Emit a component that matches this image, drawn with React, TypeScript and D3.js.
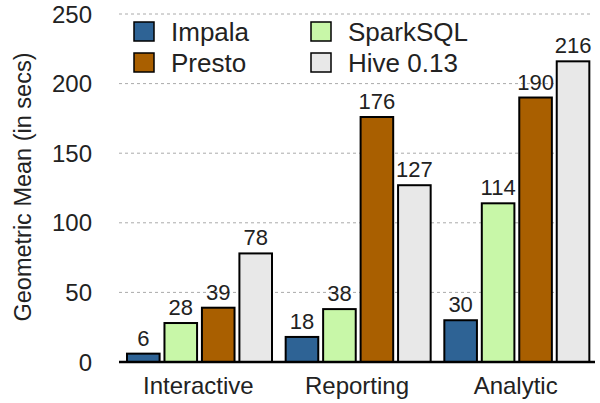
import React from "react";
import * as d3 from "d3";

const categories = ["Interactive", "Reporting", "Analytic"];
const seriesNames = ["Impala", "SparkSQL", "Presto", "Hive 0.13"];
const impala = [6, 18, 30];
const sparksql = [28, 38, 114];
const presto = [39, 176, 190];
const hive = [78, 127, 216];
const yTicks = [0, 50, 100, 150, 200, 250];
const colors = ["#2e6395", "#c8f7a8", "#a95f00", "#e8e8e8"];

const seriesValues = [impala, sparksql, presto, hive];

export default function App() {
  const W = 600, H = 403;
  const left = 119, right = 595, top = 14, bottom = 362;
  const font = "'Liberation Sans', Arial, Helvetica, sans-serif";

  const y = d3.scaleLinear().domain([0, 250]).range([bottom, top]);
  const x0 = d3.scaleBand<string>().domain(categories).range([left, right]).paddingInner(0).paddingOuter(0);
  const x1 = d3.scaleBand<string>().domain(seriesNames).range([8, 153]).paddingInner(0.13);

  const legendPos = [
    { x: 134, y: 22 },
    { x: 311, y: 22 },
    { x: 134, y: 53 },
    { x: 311, y: 53 },
  ];

  return (
    <svg width={W} height={H} style={{ position: "absolute", left: 0, top: 0 }} fontFamily={font}>
      {yTicks.filter((t) => t > 0).map((t) => (
        <line key={"g" + t} x1={left} x2={592} y1={y(t)} y2={y(t)} stroke="#aaa" strokeWidth={1} strokeDasharray="3,3" />
      ))}
      {yTicks.map((t) => (
        <text key={"t" + t} x={92} y={y(t)} dy="0.36em" textAnchor="end" fontSize={24} fill="#222">{t}</text>
      ))}
      <text transform={`translate(31,187) rotate(-90)`} textAnchor="middle" fontSize={23.5} fill="#222">
        Geometric Mean (in secs)
      </text>
      {categories.map((c, ci) => (
        <g key={c} transform={`translate(${x0(c)},0)`}>
          {seriesNames.map((s, si) => {
            const v = seriesValues[si][ci];
            const bx = x1(s)!;
            const bw = x1.bandwidth();
            return (
              <g key={s}>
                <rect x={bx} y={y(v)} width={bw} height={bottom - y(v)} fill={colors[si]} stroke="#000" strokeWidth={2} />
                <text x={bx + bw / 2} y={y(v) - 8} textAnchor="middle" fontSize={22} fill="#222">{v}</text>
              </g>
            );
          })}
          <text x={x0.bandwidth() / 2} y={394} textAnchor="middle" fontSize={24} fill="#222">{c}</text>
        </g>
      ))}
      <line x1={left} x2={right} y1={bottom} y2={bottom} stroke="#000" strokeWidth={2.5} />
      {seriesNames.map((s, si) => (
        <g key={"l" + s}>
          <rect x={legendPos[si].x} y={legendPos[si].y} width={20} height={19} fill={colors[si]} stroke="#000" strokeWidth={1.5} />
          <text x={legendPos[si].x + 37} y={legendPos[si].y + 10} dy="0.36em" fontSize={26} fill="#222">{s}</text>
        </g>
      ))}
    </svg>
  );
}
